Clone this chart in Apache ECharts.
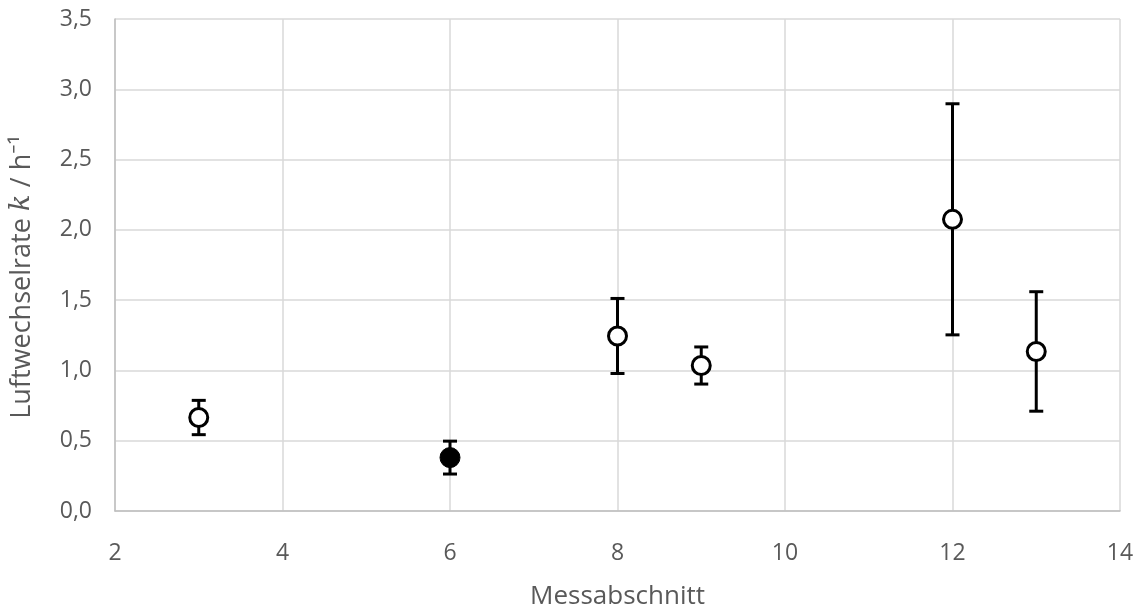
<!DOCTYPE html>
<html><head><meta charset="utf-8">
<script src="https://cdn.jsdelivr.net/npm/echarts@6/dist/echarts.min.js"></script>
<style>html,body{margin:0;padding:0;background:#fff}#c{width:1144px;height:615px}</style>
</head><body><div id="c"></div>
<script>
const openX = [3, 8, 9, 12, 13];
const openY = [0.665, 1.245, 1.035, 2.075, 1.135];
const openErr = [0.122, 0.267, 0.132, 0.822, 0.425];
const filledX = [6];
const filledY = [0.38];
const filledErr = [0.117];
const yTicks = { min: 0, max: 3.5, interval: 0.5 };
const xTicks = { min: 2, max: 14, interval: 2 };

const font = "'Open Sans', 'Noto Sans', sans-serif";
const errData = openX.map((x, i) => [x, openY[i], openErr[i]])
  .concat(filledX.map((x, i) => [x, filledY[i], filledErr[i]]));

function renderErr(params, api) {
  const x = api.value(0), y = api.value(1), e = api.value(2);
  const top = api.coord([x, y + e]);
  const bot = api.coord([x, y - e]);
  const hw = 7;
  const st = { stroke: '#000', lineWidth: 3 };
  return { type: 'group', children: [
    { type: 'line', shape: { x1: top[0], y1: top[1], x2: bot[0], y2: bot[1] }, style: st },
    { type: 'line', shape: { x1: top[0] - hw, y1: top[1], x2: top[0] + hw, y2: top[1] }, style: st },
    { type: 'line', shape: { x1: bot[0] - hw, y1: bot[1], x2: bot[0] + hw, y2: bot[1] }, style: st }
  ]};
}

const chart = echarts.init(document.getElementById('c'), null, { renderer: 'canvas' });
chart.setOption({
  animation: false,
  backgroundColor: '#fff',
  grid: { left: 111, right: 24, top: 19, bottom: 98, containLabel: false },
  xAxis: {
    type: 'value', min: xTicks.min, max: xTicks.max, interval: xTicks.interval,
    name: 'Messabschnitt', nameLocation: 'middle', nameGap: 73,
    nameTextStyle: { fontFamily: font, fontSize: 26, color: '#595959' },
    axisLine: { show: true, lineStyle: { color: '#bfbfbf', width: 1.5 } },
    axisTick: { show: false },
    axisLabel: { fontFamily: font, fontSize: 23, color: '#595959', margin: 31 },
    splitLine: { show: true, lineStyle: { color: '#d9d9d9', width: 1.5 } }
  },
  yAxis: {
    type: 'value', min: yTicks.min, max: yTicks.max, interval: yTicks.interval,
    name: '{n|Luftwechselrate }{k|k}{n| / h⁻¹}', nameLocation: 'middle', nameGap: 79, nameRotate: 90,
    nameTextStyle: { padding: [0, 24, 0, 0], rich: {
      n: { fontFamily: font, fontSize: 27, color: '#595959' },
      k: { fontFamily: "'DejaVu Serif', serif", fontStyle: 'italic', fontSize: 28, color: '#595959' }
    } },
    axisLine: { show: true, lineStyle: { color: '#bfbfbf', width: 1.5 } },
    axisTick: { show: false },
    axisLabel: { fontFamily: font, fontSize: 23, color: '#595959', margin: 23,
      formatter: v => v.toFixed(1).replace('.', ',') },
    splitLine: { show: true, lineStyle: { color: '#d9d9d9', width: 1.5 } }
  },
  series: [
    { type: 'custom', renderItem: renderErr, data: errData, z: 2, encode: { x: 0, y: 1 } },
    { type: 'scatter', data: openX.map((x, i) => [x, openY[i]]), symbol: 'circle', symbolSize: 18,
      itemStyle: { color: '#fff', borderColor: '#000', borderWidth: 3, opacity: 1 }, z: 3 },
    { type: 'scatter', data: filledX.map((x, i) => [x, filledY[i]]), symbol: 'circle', symbolSize: 20,
      itemStyle: { color: '#000', borderColor: '#000', borderWidth: 1, opacity: 1 }, z: 3 }
  ]
});
</script></body></html>
